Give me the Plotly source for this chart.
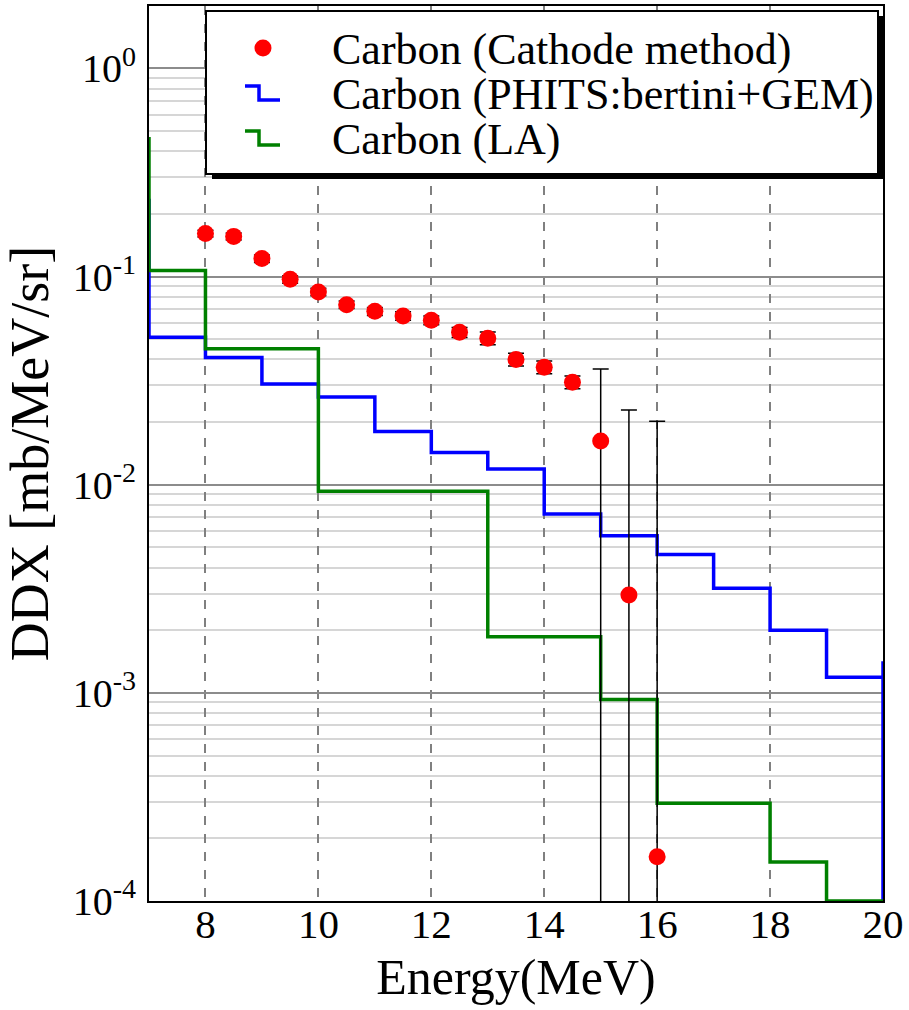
import plotly.graph_objects as go

# ---------------- data ----------------
energy = [8, 8.5, 9, 9.5, 10, 10.5, 11, 11.5, 12, 12.5, 13, 13.5, 14, 14.5, 15, 15.5, 16]
ddx_cathode = [0.161, 0.156, 0.122, 0.097, 0.0844, 0.0733, 0.0681, 0.0647, 0.0617, 0.054,
               0.0506, 0.040, 0.0367, 0.0311, 0.0162, 0.00295, 0.000163]
err_plus = [0.006, 0.006, 0.005, 0.004, 0.0035, 0.003, 0.003, 0.003, 0.003, 0.003,
            0.0035, 0.0028, 0.0026, 0.0022, 0.0198, 0.0199, 0.0200]
err_minus = [0.006, 0.006, 0.005, 0.004, 0.0035, 0.003, 0.003, 0.003, 0.003, 0.003,
             0.0035, 0.0028, 0.0026, 0.0022, 0.0162, 0.00295, 0.000163]

phits_edges = [6, 7, 8, 9, 10, 11, 12, 13, 14, 15, 16, 17, 18, 19, 20, 20]
phits_ddx = [0.232, 0.0511, 0.0409, 0.0305, 0.0264, 0.0180, 0.0143, 0.0119, 0.00723,
             0.00569, 0.00462, 0.00318, 0.0020, 0.00119, 0.00142, 1e-6]

la_edges = [6, 7, 8, 9, 10, 11, 12, 13, 14, 15, 16, 17, 18, 19, 20]
la_ddx = [0.46, 0.107, 0.045, 0.045, 0.0093, 0.0093, 0.0093, 0.00186, 0.00186,
          0.00093, 0.000295, 0.000295, 0.000154, 0.0001, 0.0001]

x_tickvals = [8, 10, 12, 14, 16, 18, 20]
y_tickvals = [1e-4, 1e-3, 1e-2, 1e-1, 1]
y_ticktext = ["10<sup>-4</sup>", "10<sup>-3</sup>", "10<sup>-2</sup>", "10<sup>-1</sup>", "10<sup>0</sup>"]

legend_labels = ["Carbon (Cathode method)", "Carbon (PHITS:bertini+GEM)", "Carbon (LA)"]

# ---------------- figure ----------------
W, H = 909, 1010
L, R, T, B = 149, 883, 6, 901
FONT = "Liberation Serif, Times New Roman, serif"

fig = go.Figure()
fig.add_trace(go.Scatter(x=phits_edges, y=phits_ddx, mode="lines", line=dict(color="#0000ff", width=3.5, shape="hv"),
                         name=legend_labels[1]))
fig.add_trace(go.Scatter(x=la_edges, y=la_ddx, mode="lines", line=dict(color="#008000", width=3.5, shape="hv"),
                         name=legend_labels[2]))
fig.add_trace(go.Scatter(x=energy, y=ddx_cathode, mode="markers",
                         marker=dict(color="#ff0000", size=17),
                         error_y=dict(type="data", symmetric=False, array=err_plus, arrayminus=err_minus,
                                      color="black", thickness=1.5, width=8),
                         name=legend_labels[0]))


def px(x):
    return (x - L) / (R - L)


def py(y):
    return (B - y) / (B - T)


shapes = []
# legend shadow and box
shapes.append(dict(type="rect", xref="paper", yref="paper", x0=px(212), x1=px(883), y0=py(179), y1=py(16),
                   fillcolor="black", line=dict(width=0), layer="above"))
shapes.append(dict(type="rect", xref="paper", yref="paper", x0=px(206), x1=px(878), y0=py(174), y1=py(11),
                   fillcolor="white", line=dict(color="black", width=2), layer="above"))
shapes.append(dict(type="circle", xref="paper", yref="paper", x0=px(254.5), x1=px(271.5), y0=py(56.5), y1=py(39.5),
                   fillcolor="#ff0000", line=dict(width=0), layer="above"))
for (ytop, ybot, col) in [(86, 100, "#0000ff"), (131, 145, "#008000")]:
    path = "M {a},{b} L {c},{b} L {c},{d} L {e},{d}".format(a=px(245), b=py(ytop), c=px(259), d=py(ybot), e=px(280))
    shapes.append(dict(type="path", xref="paper", yref="paper", path=path, line=dict(color=col, width=3.5),
                       layer="above"))

annotations = []
for lbl, yc in zip(legend_labels, [50, 95, 140]):
    annotations.append(dict(text=lbl, xref="paper", yref="paper", x=px(330), y=py(yc), xanchor="left",
                            yanchor="middle", showarrow=False, font=dict(family=FONT, size=44, color="black")))

fig.update_layout(
    width=W, height=H,
    margin=dict(l=L, r=W - R, t=T, b=H - B, autoexpand=False),
    plot_bgcolor="white", paper_bgcolor="white",
    showlegend=False,
    font=dict(family=FONT, color="black"),
    shapes=shapes, annotations=annotations,
    xaxis=dict(range=[7, 20], tickvals=x_tickvals, showgrid=True, gridcolor="#808080", griddash="dash",
               gridwidth=1.5, showline=True, linecolor="black", linewidth=2, mirror=True, ticks="", ticklen=0,
               zeroline=False, tickfont=dict(family=FONT, size=41), ticklabelstandoff=-14, automargin=False,
               title=dict(text="Energy(MeV)", font=dict(family=FONT, size=50), standoff=13)),
    yaxis=dict(type="log", range=[-4, 0.3], tickvals=y_tickvals, ticktext=y_ticktext, showgrid=True,
               gridcolor="#8c8c8c", gridwidth=1.5, showline=True, linecolor="black", linewidth=2, mirror=True,
               ticks="", ticklen=0, zeroline=False, tickfont=dict(family=FONT, size=40), ticklabelstandoff=3,
               automargin=False,
               minor=dict(dtick="D1", showgrid=True, gridcolor="#d6d6d6", gridwidth=1.5),
               title=dict(text="DDX [mb/MeV/sr]", font=dict(family=FONT, size=54), standoff=24)),
)

fig.write_html("out.html", post_script="document.body.style.margin='0px';",
               config={"displayModeBar": False})
